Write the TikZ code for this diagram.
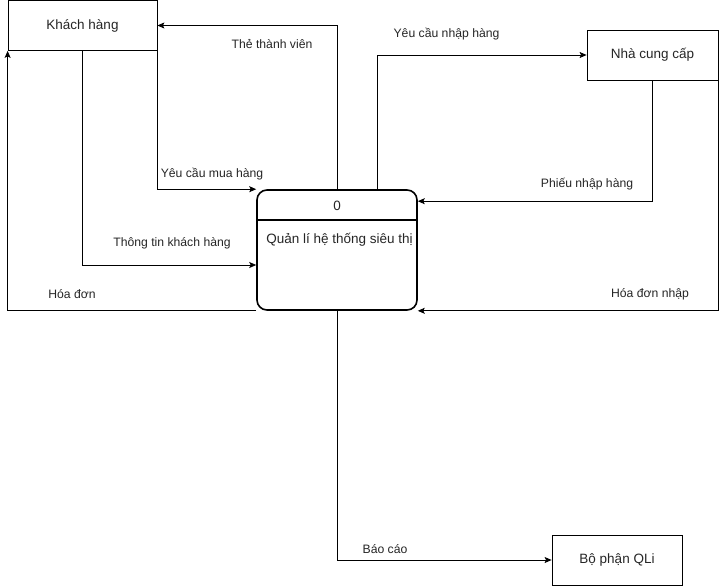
\documentclass[tikz,border=0pt]{standalone}
\usepackage{fontspec}
\setmainfont{Liberation Sans}
\usetikzlibrary{arrows.meta}
\begin{document}
\begin{tikzpicture}[x=1pt,y=-1pt,
  ent/.style={draw=black,line width=0.8pt,minimum height=50pt,inner sep=0pt,font=\fontsize{13.5}{15}\selectfont,text=black!85},
  proc/.style={draw=black,line width=1.6pt,rounded corners=10pt,minimum width=160pt,minimum height=120pt,inner sep=0pt},
  flow/.style={draw=black,line width=0.8pt,-{Stealth[length=7pt,width=6pt,inset=1.5pt]}},
  lbl/.style={font=\fontsize{12.2}{14}\selectfont,inner sep=0pt,text=black!85}]
\useasboundingbox (0,0) rectangle (727,586);
\fill[white] (0,0) rectangle (727,586);
\node[ent,minimum width=149pt] (khach) at (82.5,25.5) {Khách hàng};
\node[ent,minimum width=131pt] (ncc) at (652.5,55) {Nhà cung cấp};
\node[ent,minimum width=130pt] (bo) at (617,560) {Bộ phận QLi};
\node[proc] (p) at (337,250) {};
\draw[line width=1.6pt] (257,220) -- (417,220);
\node[font=\fontsize{13.5}{15}\selectfont,inner sep=0pt,text=black!85] (pnum) at (337,206) {0};
\node[font=\fontsize{13.5}{15}\selectfont,inner sep=0pt,text=black!85] (pname) at (339.5,240) {Quản lí hệ thống siêu thị};
% connectors
\draw[flow] (p.north) |- (khach.east);
\draw[flow] ([xshift=40pt]p.north) |- (ncc.west);
\draw[flow] (ncc.south) |- ([yshift=-12pt]p.north east);
\draw[flow] (ncc.south east) |- (p.south east);
\draw[flow] (khach.south east) |- (p.north west);
\draw[flow] (khach.south) |- ([yshift=-15pt]p.west);
\draw[flow] (p.south west) -| (khach.south west);
\draw[flow] (p.south) |- (bo.west);
% labels
\node[lbl] (l1) at (272,44) {Thẻ thành viên};
\node[lbl] (l2) at (446.5,34) {Yêu cầu nhập hàng};
\node[lbl] (l3) at (587,184) {Phiếu nhập hàng};
\node[lbl] (l4) at (650,294) {Hóa đơn nhập};
\node[lbl] (l5) at (212,174) {Yêu cầu mua hàng};
\node[lbl] (l6) at (172,243) {Thông tin khách hàng};
\node[lbl] (l7) at (72,294) {Hóa đơn};
\node[lbl] (l8) at (385,549) {Báo cáo};
\end{tikzpicture}
\end{document}
